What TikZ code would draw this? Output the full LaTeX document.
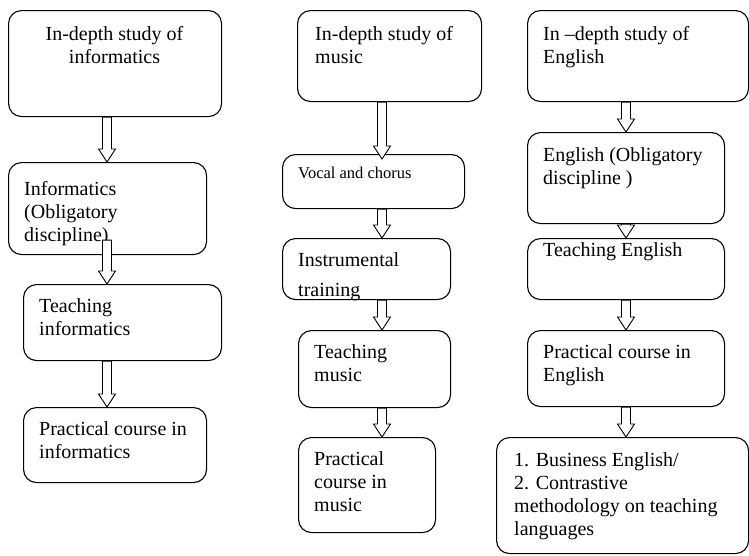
\documentclass[tikz,border=0pt]{standalone}
\usepackage{fontspec}
\setmainfont{Liberation Serif}
\usetikzlibrary{calc}

\tikzset{
  box/.style={draw, rounded corners=13pt, line width=1.1pt, anchor=north west, inner sep=0pt},
  txt/.style={align=left, anchor=north west, inner sep=0pt, font=\fontsize{20}{23}\selectfont},
  blockarrow/.style={draw, fill=white, line width=0.9pt,
    to path={let \p1=(\tikztostart), \p2=(\tikztotarget) in
      (\x1-4.5pt,\y1) -- (\x1-4.5pt,\y2+13pt) -- (\x1-8.5pt,\y2+13pt) -- (\x1,\y2)
      -- (\x1+8.5pt,\y2+13pt) -- (\x1+4.5pt,\y2+13pt) -- (\x1+4.5pt,\y1) -- cycle}}
}

\begin{document}
\begin{tikzpicture}[x=1pt, y=-1pt]

	\useasboundingbox (0,0) rectangle (749,555);

	% informatics
	\node[box, minimum width=213pt, minimum height=106pt] (a1) at (8,10) {};
	\node[box, minimum width=198pt, minimum height=92pt] (a2) at (8,162) {};
	\node[box, minimum width=198pt, minimum height=76pt] (a3) at (23,284) {};
	\node[box, minimum width=183pt, minimum height=75pt] (a4) at (23,407) {};

	\node[txt, align=center, anchor=north] (ta1) at (114.5,26) {In-depth study of\\informatics};
	\node[txt] (ta2) at (24,181) {Informatics\\(Obligatory\\discipline)};
	\node[txt] (ta3) at (39,298) {Teaching\\informatics};
	\node[txt] (ta4) at (39,421) {Practical course in\\informatics};

	% music
	\node[box, minimum width=184pt, minimum height=91pt] (b1) at (297,10) {};
	\node[box, minimum width=182pt, minimum height=54pt] (b2) at (282,154) {};
	\node[box, minimum width=168pt, minimum height=61pt] (b3) at (282,238) {};
	\node[box, minimum width=152pt, minimum height=77pt] (b4) at (298,330) {};
	\node[box, minimum width=137pt, minimum height=95pt] (b5) at (298,437) {};

	\node[txt] (tb1) at (315,26) {In-depth study of\\music};
	\node[txt, font=\fontsize{16.5}{19}\selectfont] (tb2) at (298,167) {Vocal and chorus};
	\begin{scope}
		\clip[rounded corners=13pt] (b3.north west) rectangle (b3.south east);
		\node[txt, font=\fontsize{20}{30}\selectfont] (tb3) at (298,252) {Instrumental\\training};
	\end{scope}
	\node[txt] (tb4) at (314,344) {Teaching\\music};
	\node[txt] (tb5) at (314,451) {Practical\\course in\\music};

	% English
	\node[box, minimum width=221pt, minimum height=91pt] (c1) at (527,10) {};
	\node[box, minimum width=197pt, minimum height=91pt] (c2) at (527,132) {};
	\node[box, minimum width=197pt, minimum height=61pt] (c3) at (527,238) {};
	\node[box, minimum width=197pt, minimum height=76pt] (c4) at (527,330) {};
	\node[box, minimum width=252pt, minimum height=116pt] (c5) at (496,437) {};

	\node[txt] (tc1) at (543,26) {In --depth study of\\English};
	\node[txt] (tc2) at (543,147) {English (Obligatory\\discipline )};
	\node[txt] (tc3) at (543,242) {Teaching English};
	\node[txt] (tc4) at (543,344) {Practical course in\\English};
	\node[txt] (tc5) at (514,452) {1. Business English/\\2. Contrastive\\methodology on teaching\\languages};

	% arrows
	\coordinate (ax) at (107,0);
	\coordinate (bx) at (382,0);
	\coordinate (cx) at (626,0);

	\draw[blockarrow] (ax |- a1.south) to (ax |- a2.north);
	\draw[blockarrow] ([yshift=15pt]ax |- a2.south) to (ax |- a3.north);
	\draw[blockarrow] (ax |- a3.south) to (ax |- a4.north);

	\draw[blockarrow] (bx |- b1.south) to ([yshift=-5pt]bx |- b2.north);
	\draw[blockarrow] (bx |- b2.south) to (bx |- b3.north);
	\draw[blockarrow] (bx |- b3.south) to (bx |- b4.north);
	\draw[blockarrow] (bx |- b4.south) to (bx |- b5.north);

	\draw[blockarrow] (cx |- c1.south) to (cx |- c2.north);
	\draw[blockarrow] (cx |- c2.south) to (cx |- c3.north);
	\draw[blockarrow] (cx |- c3.south) to (cx |- c4.north);
	\draw[blockarrow] (cx |- c4.south) to (cx |- c5.north);

\end{tikzpicture}
\end{document}
